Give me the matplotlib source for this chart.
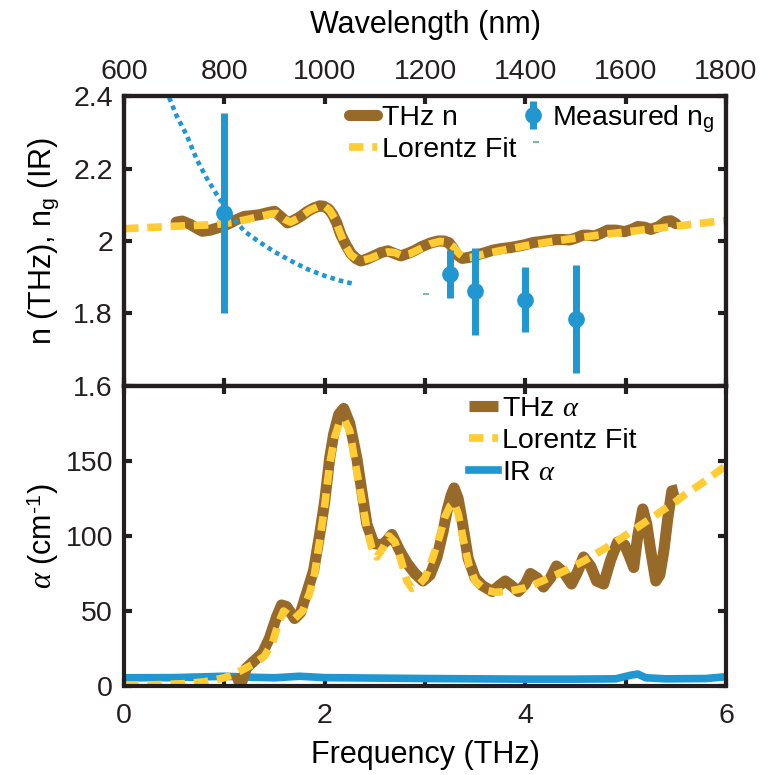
import matplotlib
matplotlib.use("Agg")
import matplotlib.pyplot as plt

plt.rcParams["font.family"] = ["Liberation Sans", "DejaVu Sans"]
plt.rcParams["mathtext.fontset"] = "custom"
plt.rcParams["mathtext.rm"] = "Liberation Sans"
plt.rcParams["mathtext.it"] = "Liberation Serif:italic"
plt.rcParams["mathtext.bf"] = "Liberation Sans:bold"

BROWN = "#986A29"
YELLOW = "#FFCC33"
BLUE = "#2097D0"

# ── top panel: refractive index ─────────────────────────────────────────
thz_n_freq = [0.52, 0.58, 0.66, 0.72, 0.78, 0.86, 0.93, 1.00, 1.06, 1.13, 1.20, 1.28,
              1.36, 1.43, 1.50, 1.56, 1.63, 1.70, 1.76, 1.83, 1.89, 1.95, 1.99, 2.04,
              2.08, 2.12, 2.16, 2.21, 2.26, 2.31, 2.36, 2.42, 2.49, 2.56, 2.63, 2.70,
              2.76, 2.83, 2.89, 2.97, 3.06, 3.13, 3.19, 3.24, 3.28, 3.32, 3.37, 3.44,
              3.52, 3.60, 3.68, 3.76, 3.85, 3.93, 4.00, 4.08, 4.14, 4.22, 4.31, 4.38,
              4.44, 4.50, 4.57, 4.63, 4.69, 4.76, 4.82, 4.90, 4.99, 5.06, 5.12, 5.19,
              5.25, 5.33, 5.40, 5.45, 5.50]
thz_n = [2.052, 2.055, 2.046, 2.036, 2.027, 2.030, 2.036, 2.042, 2.050, 2.060, 2.068, 2.070,
         2.073, 2.078, 2.082, 2.068, 2.050, 2.058, 2.068, 2.082, 2.091, 2.097, 2.096, 2.088,
         2.073, 2.050, 2.018, 1.990, 1.966, 1.952, 1.945, 1.950, 1.959, 1.968, 1.973, 1.965,
         1.959, 1.966, 1.973, 1.985, 1.995, 2.000, 2.000, 1.995, 1.980, 1.962, 1.952, 1.955,
         1.962, 1.968, 1.975, 1.979, 1.982, 1.986, 1.990, 1.996, 1.998, 2.001, 2.004, 2.004,
         2.003, 2.008, 2.016, 2.016, 2.014, 2.022, 2.030, 2.030, 2.026, 2.032, 2.040, 2.038,
         2.032, 2.040, 2.054, 2.056, 2.048]

fit_n_freq = [0.0, 0.3, 0.6, 0.9, 1.1, 1.3, 1.45, 1.52, 1.60, 1.66, 1.75, 1.85, 1.95, 2.00,
              2.05, 2.10, 2.15, 2.20, 2.26, 2.32, 2.38, 2.45, 2.55, 2.63, 2.70, 2.77, 2.85,
              2.95, 3.05, 3.15, 3.22, 3.28, 3.34, 3.40, 3.46, 3.60, 3.80, 4.00, 4.25, 4.50,
              4.75, 5.00, 5.25, 5.50, 5.75, 6.00]
fit_n = [2.034, 2.038, 2.042, 2.045, 2.052, 2.064, 2.074, 2.076, 2.060, 2.052, 2.065, 2.085,
         2.097, 2.096, 2.085, 2.062, 2.025, 1.990, 1.962, 1.950, 1.947, 1.952, 1.963, 1.970,
         1.968, 1.960, 1.965, 1.978, 1.992, 1.999, 1.997, 1.985, 1.965, 1.953, 1.955, 1.965,
         1.976, 1.987, 1.998, 2.008, 2.017, 2.025, 2.033, 2.041, 2.049, 2.057]

ir_n_wl = [690, 705, 725, 745, 765, 785, 810, 840, 867, 900, 933, 966, 1000, 1030, 1060]
ir_n = [2.396, 2.345, 2.292, 2.225, 2.173, 2.128, 2.075, 2.027, 2.000, 1.970, 1.945,
        1.922, 1.904, 1.891, 1.881]

meas_wl = [800, 1250, 1300, 1400, 1500]
meas_ng = [2.078, 1.908, 1.862, 1.838, 1.786]
meas_err = [0.276, 0.066, 0.120, 0.090, 0.149]

# ── bottom panel: absorption ────────────────────────────────────────────
thz_a_freq = [1.12, 1.16, 1.22, 1.30, 1.38, 1.45, 1.52, 1.57, 1.62, 1.70, 1.76, 1.82,
              1.89, 1.95, 2.00, 2.05, 2.09, 2.14, 2.19, 2.25, 2.32, 2.37, 2.42, 2.49,
              2.57, 2.62, 2.67, 2.75, 2.82, 2.90, 2.98, 3.05, 3.12, 3.18, 3.22, 3.26,
              3.29, 3.33, 3.37, 3.43, 3.50, 3.57, 3.67, 3.74, 3.80, 3.86, 3.93, 4.00,
              4.05, 4.12, 4.18, 4.25, 4.31, 4.38, 4.46, 4.52, 4.58, 4.65, 4.71, 4.78,
              4.85, 4.92, 4.99, 5.04, 5.08, 5.12, 5.17, 5.21, 5.25, 5.30, 5.34, 5.38,
              5.42, 5.46, 5.52]
thz_a = [8, 0, 12, 17, 22, 32, 46, 54, 53, 45, 49, 62,
         77, 101, 123, 152, 168, 181, 185, 175, 152, 130, 108, 95,
         94, 97, 101, 90, 82, 75, 70, 74, 86, 103, 117, 127,
         132, 125, 110, 85, 72, 67, 63, 67, 70, 67, 63, 68,
         75, 72, 66, 72, 80, 76, 68, 76, 86, 80, 70, 68,
         84, 96, 94, 86, 79, 100, 118, 108, 90, 70, 74, 90,
         112, 130, 131]

fit_a_freq = [0.0, 0.2, 0.4, 0.6, 0.8, 1.0, 1.1, 1.2, 1.3, 1.4, 1.48, 1.54, 1.59, 1.65,
              1.70, 1.78, 1.85, 1.90, 1.95, 2.00, 2.05, 2.10, 2.15, 2.20, 2.25, 2.30,
              2.36, 2.42, 2.47, 2.52, 2.58, 2.64, 2.70, 2.76, 2.82, 2.87, 2.93, 3.00,
              3.08, 3.15, 3.20, 3.25, 3.29, 3.33, 3.38, 3.44, 3.50, 3.60, 3.70, 3.80,
              3.90, 4.00, 4.10, 4.20, 4.30, 4.40, 4.50, 4.60, 4.70, 4.80, 4.90, 5.00,
              5.10, 5.20, 5.30, 5.40, 5.50, 5.60, 5.70, 5.80, 5.90, 6.00]
fit_a = [0.5, 0.7, 1.0, 1.6, 2.8, 5.5, 8, 11.5, 15, 20, 29, 42, 50, 47,
         45, 50, 62, 75, 97, 120, 148, 166, 176, 177, 170, 150,
         128, 105, 92, 86, 92, 100, 96, 84, 70, 65, 67, 72,
         86, 101, 113, 120, 122, 115, 98, 80, 70, 64, 62.5, 63,
         64, 65.5, 68, 71, 74, 77, 80.5, 84, 88, 92, 96, 100.5,
         105, 109.5, 114, 118.5, 123, 128, 132.5, 137, 142, 147]

ir_a_freq = [0.0, 0.5, 1.0, 1.3, 1.5, 1.75, 2.0, 2.5, 3.0, 3.5, 4.0, 4.5, 4.9, 5.05,
             5.12, 5.2, 5.4, 5.8, 6.0]
ir_a = [5.5, 5.6, 6.5, 5.8, 5.5, 6.5, 5.6, 5.3, 5.0, 4.8, 4.6, 4.6, 4.8, 7.2,
        8.0, 5.5, 4.8, 5.0, 6.2]

TICK_FS = 20.5
LABEL_FS = 22
LEGEND_FS = 20.5

fig = plt.figure(figsize=(7.66, 7.75), dpi=100)
ax1 = fig.add_axes([0.1619, 0.502, 0.7859, 0.374])
ax2 = fig.add_axes([0.1619, 0.1148, 0.7859, 0.3872])

fit_dash = (0, (1.9, 1.15))

# top panel
h_n, = ax1.plot(thz_n_freq, thz_n, color=BROWN, lw=8,
                solid_capstyle="round", solid_joinstyle="round")
h_nfit, = ax1.plot(fit_n_freq, fit_n, color=YELLOW, lw=5.5, linestyle=fit_dash)
ax1.set_xlim(0, 6)
ax1.set_ylim(1.6, 2.4)
ax1.set_xticks(range(7))
ax1.set_yticks([1.6, 1.8, 2.0, 2.2, 2.4])
ax1.set_yticklabels(["1.6", "1.8", "2", "2.2", "2.4"])
ax1.tick_params(axis="x", which="both", direction="in", top=False, bottom=True,
                labelbottom=False, length=6, width=3)
ax1.tick_params(axis="y", direction="in", left=True, right=True, length=6, width=3,
                labelsize=TICK_FS, pad=8)
ax1.set_ylabel(r"n (THz), n$_\mathrm{g}$ (IR)", fontsize=LABEL_FS)
ax1.yaxis.set_label_coords(-0.104, 0.5)

ax1t = ax1.twiny()
ax1t.plot(ir_n_wl, ir_n, color=BLUE, lw=3.3, linestyle=(0, (1, 0.9)))
h_meas = ax1t.errorbar(meas_wl, meas_ng, yerr=meas_err, fmt="o", color=BLUE,
                       ms=11, elinewidth=5, capsize=0)
ax1t.plot([1421], [2.274], marker="_", color="#5DB58C", ms=4, mew=1.2)
ax1t.plot([1202], [1.855], marker="_", color="#5DB58C", ms=4, mew=1.2)
ax1t.set_xlim(600, 1800)
ax1t.set_ylim(1.6, 2.4)
ax1t.set_xticks(range(600, 1801, 200))
ax1t.tick_params(axis="x", direction="in", length=6, width=3, labelsize=TICK_FS, pad=8)
ax1t.set_xlabel("Wavelength (nm)", fontsize=LABEL_FS, labelpad=19)

ax1t.legend([h_n, h_nfit, h_meas], ["THz n", "Lorentz Fit", r"Measured n$_\mathrm{g}$"],
            ncol=2, frameon=False, fontsize=LEGEND_FS, loc="upper left",
            bbox_to_anchor=(0.35, 1.025), borderaxespad=0.1, handlelength=1.0,
            handletextpad=0.15, columnspacing=0.1, labelspacing=0.22)

# bottom panel
h_ir, = ax2.plot(ir_a_freq, ir_a, color=BLUE, lw=5.5, solid_joinstyle="round")
h_a, = ax2.plot(thz_a_freq, thz_a, color=BROWN, lw=8,
                solid_capstyle="butt", solid_joinstyle="round")
h_afit, = ax2.plot(fit_a_freq, fit_a, color=YELLOW, lw=5.5, linestyle=fit_dash)
ax2.set_xlim(0, 6)
ax2.set_ylim(0, 200)
ax2.set_xticks(range(7))
ax2.set_xticklabels(["0", "", "2", "", "4", "", "6"])
ax2.set_yticks([0, 50, 100, 150])
ax2.tick_params(axis="x", direction="in", top=True, bottom=True, length=6, width=3,
                labelsize=TICK_FS, pad=12)
ax2.tick_params(axis="y", direction="in", left=True, right=True, length=6, width=3,
                labelsize=TICK_FS, pad=8)
ax2.set_xlabel("Frequency (THz)", fontsize=LABEL_FS, labelpad=8)
ax2.set_ylabel(r"$\alpha$ (cm$^{\text{-}1}$)", fontsize=LABEL_FS)
ax2.yaxis.set_label_coords(-0.104, 0.5)
ax2.legend([h_a, h_afit, h_ir], [r"THz $\alpha$", "Lorentz Fit", r"IR $\alpha$"],
           frameon=False, fontsize=LEGEND_FS, loc="upper left", bbox_to_anchor=(0.55, 1.015),
           borderaxespad=0.1, handlelength=1.0, handletextpad=0.15, labelspacing=0.22)

for ax in (ax1, ax1t, ax2):
    for sp in ax.spines.values():
        sp.set_linewidth(3)
        sp.set_color("#231F20")
    ax.tick_params(colors="#231F20")

fig.savefig("out.png", dpi=100)
